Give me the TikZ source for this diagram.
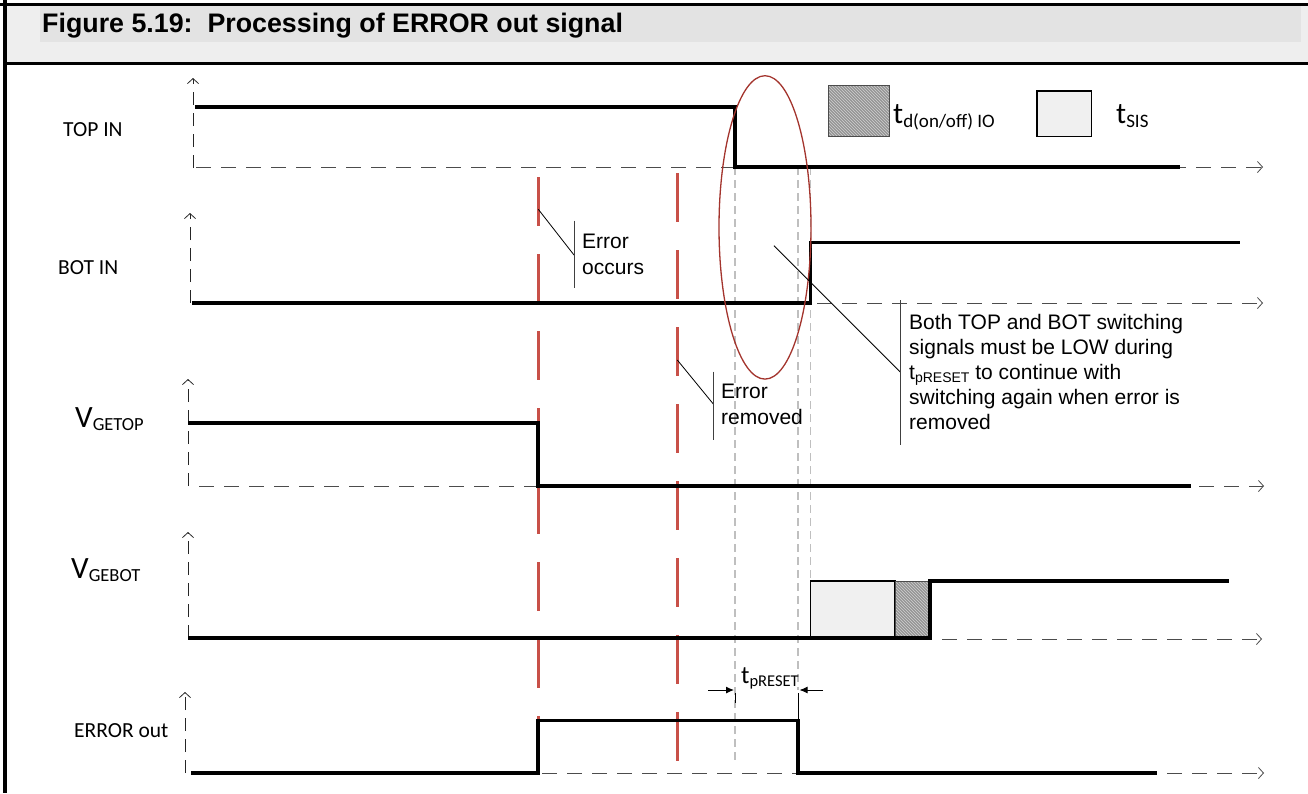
\documentclass[tikz,border=0pt]{standalone}
\usepackage{fontspec}
\setmainfont{Liberation Sans}
\newfontfamily\calibri{Carlito}
\usetikzlibrary{arrows.meta,patterns}
\definecolor{errred}{RGB}{200,80,72}
\definecolor{ellred}{RGB}{163,52,45}
\definecolor{titlebg}{RGB}{238,238,238}
\definecolor{titleband}{RGB}{227,227,227}
\definecolor{boxfill}{RGB}{240,240,240}
\newcommand\subtxt[3]{{\fontsize{#1}{#1}\selectfont\raisebox{-#2pt}{#3}}}
\tikzset{
  barb/.tip={Straight Barb[length=5pt,width=11pt,line width=0.8pt]},
  sig/.style={line width=3.3pt, line join=miter},
  axisv/.style={line width=0.8pt, black!85, dash pattern=on 13pt off 8pt, -barb},
  baseln/.style={line width=1pt, black!70, dash pattern=on 15pt off 10pt, -barb},
  guide/.style={line width=1.2pt, black!25, dash pattern=on 8pt off 5pt},
  reddash/.style={line width=3.3pt, errred, dash pattern=on 49pt off 28pt},
  leader/.style={line width=0.8pt},
  leaderbar/.style={line width=1pt, black!75},
  clabel/.style={font=\calibri\fontsize{21.5}{25}\selectfont, inner sep=0},
  alabel/.style={font=\fontsize{21}{25.6}\selectfont, inner sep=0, align=left},
  hatchbox/.style={fill=black!42, postaction={pattern=north west lines, pattern color=black!18}},
  sisbox/.style={fill=boxfill, draw=black, line width=1.5pt},
}
\begin{document}
\begin{tikzpicture}[x=1pt,y=-1pt]
\useasboundingbox (0,0) rectangle (1308,793);
% frame and title bar
\fill[titlebg] (5,5) rectangle (1308,62);
\fill[titleband] (40,5) rectangle (1301,42);
\draw[line width=3pt] (0,4) -- (1308,4);
\draw[line width=3pt] (5,63) -- (1308,63);
\draw[line width=3.3pt] (5,0) -- (5,793);
\node[anchor=base west, inner sep=0, font=\fontsize{26.8}{30}\selectfont\bfseries] (title) at (42,32) {Figure 5.19:\ \ Processing of ERROR out signal};

% grey guide lines
\draw[guide] (735,167) -- (735,763);
\draw[guide] (798,167) -- (798,690);
\draw[guide] (810.7,167) -- (810.7,581);

% axes
\draw[axisv] (193,168) -- (193,78);
\draw[baseln] (196,167) -- (1263,167);
\draw[axisv] (190,303) -- (190,213);
\draw[baseln] (192,303) -- (1263,303);
\draw[axisv] (188,486) -- (188,379);
\draw[baseln] (199,486) -- (1264,486);
\draw[axisv] (188,638) -- (188,532);
\draw[baseln] (192,639) -- (1262,639);
\draw[axisv] (185,773) -- (185,692);
\draw[baseln] (192,773) -- (1264,773);

% red error lines
\draw[reddash] (538.3,177) -- (538.3,766);
\draw[reddash] (677.3,173) -- (677.3,762);

% V_GEBOT boxes
\path[sisbox] (810.7,581) rectangle (895,638);
\path[hatchbox] (895,581) rectangle (930,638);
\draw[line width=0.8pt, black!70] (895,581) rectangle (930,638);

% signals
\draw[sig] (195,107) -- (735,107) -- (735,167) -- (1180,167);
\draw[sig] (192,303) -- (810.7,303) -- (810.7,242.7) -- (1240,242.7);
\draw[sig] (188,423) -- (538,423) -- (538,486) -- (1191,486);
\draw[sig] (188,638) -- (930,638) -- (930,581) -- (1229,581);
\draw[sig] (191,773) -- (538,773) -- (538,720.7) -- (798,720.7) -- (798,773) -- (1157,773);

% ellipse
\draw[ellred, line width=1.3pt] (765,227.4) ellipse [x radius=46pt, y radius=151.7pt];

% legend
\path[hatchbox] (828.3,85) rectangle (889.2,136.7);
\draw[line width=0.8pt, black!70] (828.3,85) rectangle (889.2,136.7);
\node[anchor=base west, inner sep=0, font=\calibri] (legtd) at (893,123) {\fontsize{30}{30}\selectfont t\subtxt{19}{4}{d(on/off) IO}};
\path[sisbox] (1037,91) rectangle (1091.5,136.7);
\node[anchor=base west, inner sep=0, font=\calibri] (legsis) at (1116,123) {\fontsize{30}{30}\selectfont t\subtxt{19}{4}{SIS}};

% signal labels
\node[clabel, anchor=west] (topin) at (63,130) {TOP IN};
\node[clabel, anchor=west] (botin) at (58,268) {BOT IN};
\node[anchor=base west, inner sep=0, font=\calibri] (vgetop) at (75,427) {\fontsize{31}{31}\selectfont V\subtxt{18.5}{3}{GETOP}};
\node[anchor=base west, inner sep=0, font=\calibri] (vgebot) at (71,578) {\fontsize{31}{31}\selectfont V\subtxt{18.5}{3}{GEBOT}};
\node[clabel, anchor=west] (errout) at (74,731) {ERROR out};

% annotations
\node[alabel, anchor=west] (occurs) at (582,254.5) {Error\\occurs};
\draw[leader] (538.3,209.3) -- (574,255);
\draw[leaderbar] (574,220.7) -- (574,288);

\node[alabel, anchor=west] (removed) at (721,404.5) {Error\\removed};
\draw[leader] (677.3,360) -- (713.3,404);
\draw[leaderbar] (713.3,371.7) -- (713.3,440);

\node[alabel, anchor=west, font=\fontsize{21}{25}\selectfont] (both) at (909,371.7) {Both TOP and BOT switching\\signals must be LOW during\\t\subtxt{14}{3}{pRESET} to continue with\\switching again when error is\\removed};
\draw[leader] (774,245.7) -- (900.5,372.3);
\draw[leaderbar] (900.5,300) -- (900.5,445);

% tpRESET
\node[anchor=base west, inner sep=0, font=\calibri] (tpreset) at (741,683) {\fontsize{25}{25}\selectfont t\subtxt{16.5}{3}{pRESET}};
\draw[line width=1pt, -{Latex[length=8pt,width=7pt]}] (708,690) -- (734,690);
\draw[line width=1pt, -{Latex[length=8pt,width=7pt]}] (823,690) -- (799.5,690);
\draw[line width=1pt] (735,693) -- (735,703);
\draw[line width=1pt] (798,693) -- (798,721);
\end{tikzpicture}
\end{document}
